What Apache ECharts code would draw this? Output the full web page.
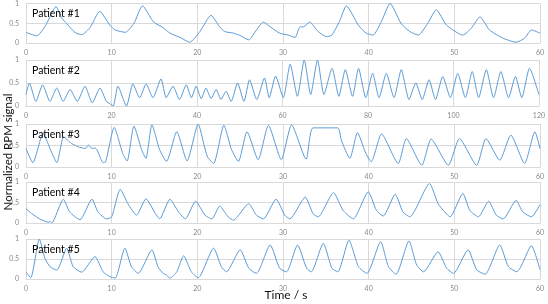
<!DOCTYPE html>
<html>
<head>
<meta charset="utf-8">
<script src="https://cdn.jsdelivr.net/npm/echarts@6/dist/echarts.min.js"></script>
<style>
html,body{margin:0;padding:0;background:#fff;}
#c{width:548px;height:304px;}
</style>
</head>
<body>
<div id="c"></div>
<script>
// ---- data: [time (s), normalized RPM signal] ----
const patientNames = ['Patient #1', 'Patient #2', 'Patient #3', 'Patient #4', 'Patient #5'];
const xMax = [60, 120, 60, 60, 60];
const xStep = [10, 20, 10, 10, 10];
const yTicks = [0, 0.5, 1];

const p1 = [[0,0.27],[1.25,0.18],[2.3,0.45],[3.5,0.92],[4.2,0.62],[4.75,0.49],[5.7,0.27],[6.5,0.21],[7.5,0.4],[8.6,0.8],[9.8,0.45],[10.4,0.33],[11.6,0.27],[12.6,0.5],[13.6,0.94],[14.9,0.53],[16,0.39],[16.8,0.25],[18,0.14],[19.1,0.02],[20.3,0.29],[21.6,0.7],[22.6,0.41],[23.2,0.29],[24.2,0.25],[25,0.19],[26,0.08],[26.9,0.33],[27.7,0.53],[28.5,0.41],[29.6,0.25],[30.6,0.2],[31.4,0.14],[32,0.41],[32.4,0.41],[33.1,0.53],[34.1,0.29],[35.1,0.16],[35.7,0.2],[36.6,0.55],[37.4,0.94],[38.8,0.45],[39.7,0.25],[40.5,0.2],[41.5,0.55],[42.5,1.0],[43.8,0.49],[44.8,0.29],[45.8,0.2],[46.9,0.5],[47.9,0.84],[49.1,0.45],[51,0.2],[52,0.38],[53,0.66],[54.1,0.33],[55.7,0.12],[57.2,0.02],[58.2,0.12],[59,0.33],[60,0.25]];

const p2 = [[0,0.25],[0.8,0.5],[2.3,0.1],[3.9,0.46],[5.6,0.1],[7.2,0.39],[8.7,0.1],[10.3,0.36],[12,0.1],[13.8,0.43],[15.5,0.07],[17.3,0.39],[18.8,0.1],[19.6,0.05],[20.4,0.0],[21.5,0.43],[23.5,0.0],[25,0.48],[26.6,0.18],[28.1,0.48],[29.7,0.18],[31.6,0.59],[32.8,0.18],[34.4,0.43],[35.9,0.14],[37.5,0.46],[38.7,0.18],[39.8,0.43],[41,0.16],[42.1,0.39],[43.3,0.16],[44.5,0.36],[45.6,0.14],[46.8,0.32],[48,0.1],[49.5,0.5],[51,0.1],[52.3,0.57],[54,0.14],[55.8,0.61],[56.9,0.18],[58.4,0.65],[60.2,0.18],[61.8,0.91],[63.5,0.21],[65.1,1.0],[66.6,0.25],[68.2,1.0],[69.7,0.25],[71.6,0.82],[73.2,0.21],[74.7,0.79],[76.4,0.21],[77.8,0.82],[79.5,0.18],[81.1,0.71],[82.6,0.18],[84.3,0.71],[86.1,0.18],[87.8,0.79],[89.6,0.14],[91.2,0.5],[92.7,0.14],[94.3,0.57],[95.8,0.14],[97.5,0.64],[99.3,0.18],[101,0.71],[102.8,0.18],[104.4,0.75],[105.9,0.18],[107.7,0.79],[109.4,0.18],[111.1,0.75],[112.9,0.18],[114.5,0.64],[116,0.18],[117.8,0.82],[120,0.25]];

const p3 = [[0,0.43],[0.8,0.1],[2,0.78],[2.8,0.43],[3.6,0.1],[4.4,0.7],[5.3,0.55],[6.1,0.47],[6.9,0.43],[7.3,0.51],[7.7,0.43],[8.1,0.44],[8.4,0.35],[9.0,0.1],[9.3,0.12],[10.3,0.92],[11.3,0.31],[11.8,0.14],[12.6,0.95],[13.5,0.4],[14.0,0.2],[14.7,0.98],[15.6,0.4],[16.4,0.13],[17.6,0.82],[18.8,0.14],[20.1,1.0],[20.8,0.5],[21.2,0.23],[21.9,0.08],[23.1,0.97],[24.0,0.4],[24.8,0.13],[25.8,0.82],[27.1,0.17],[28.3,0.97],[29.8,0.17],[31,0.98],[32.7,0.18],[33.5,0.91],[36.4,0.91],[36.8,0.63],[37.8,0.2],[38.7,0.8],[39.6,0.35],[40.3,0.12],[41.5,0.77],[43.45,0.08],[44.4,0.66],[46.2,0.04],[47.3,0.65],[49.3,0.04],[50.6,0.66],[52.6,0.04],[53.7,0.66],[55.3,0.16],[56.6,0.74],[58.2,0.08],[59.4,0.82],[60,0.43]];

const p4 = [[0,0.35],[0.66,0.23],[1.6,0.1],[2.6,0.02],[2.8,0.04],[3,0],[4.36,0.58],[5.1,0.27],[6.3,0.08],[7.7,0.58],[8.4,0.27],[9.4,0.1],[10,0.15],[11,0.82],[11.9,0.47],[12.9,0.19],[14,0.59],[15.1,0.23],[15.6,0.1],[16.8,0.58],[17.8,0.27],[18.6,0.1],[19.8,0.53],[20.9,0.19],[21.7,0.1],[22.6,0.41],[23.6,0.15],[24.2,0.07],[26,0.47],[26.9,0.19],[27.7,0.1],[29.2,0.58],[30.2,0.19],[30.8,0.1],[32.6,0.63],[33.5,0.23],[34.1,0.15],[35.9,0.74],[37,0.31],[38.2,0.1],[39.95,0.76],[40.9,0.31],[41.7,0.17],[43.1,0.7],[44,0.27],[44.8,0.15],[47.1,0.96],[48.1,0.47],[48.7,0.31],[49.5,0.15],[51,0.72],[51.8,0.31],[52.8,0.15],[54,0.53],[54.9,0.19],[55.7,0.1],[57.2,0.55],[58,0.27],[59,0.15],[60,0.45]];

const p5 = [[0,0.18],[0.55,0.03],[1.56,1.0],[2.2,0.52],[2.8,0.31],[3.6,0.22],[4.75,0.77],[5.5,0.31],[6.5,0.17],[8.05,0.56],[9,0.18],[9.8,0.06],[10.4,0.02],[11.55,0.77],[12.3,0.31],[13.1,0.14],[14.7,0.73],[15.4,0.31],[16,0.14],[16.4,0.1],[16.8,0.02],[17.6,0.18],[18.4,0.58],[19.3,0.18],[20.1,0.03],[21.9,0.77],[22.8,0.31],[23.4,0.18],[25,0.73],[26,0.27],[26.9,0.14],[28.5,0.85],[29.6,0.27],[30.4,0.18],[31.7,0.85],[32.75,0.27],[33.3,0.18],[34.7,0.89],[35.7,0.27],[36.4,0.18],[37.7,0.97],[38.8,0.31],[39.8,0.14],[41.4,0.93],[42.3,0.31],[43.2,0.12],[44.7,0.95],[45.6,0.35],[46.4,0.18],[48.1,0.68],[49.1,0.27],[49.9,0.14],[51.6,0.73],[52.6,0.23],[53.6,0.12],[55.3,0.85],[56.3,0.31],[57.3,0.18],[59,0.83],[60,0.23]];

const seriesData = [p1, p2, p3, p4, p5];

// ---- layout ----
const gridBoxes = [
  {top: 3, height: 40},
  {top: 60, height: 46},
  {top: 124, height: 43},
  {top: 182, height: 41},
  {top: 239, height: 40}
];
const FONT = 'Lato, "Liberation Sans", sans-serif';
const lineColor = '#5B9BD5';
const gridColor = '#d9d9d9';

const grid = [], xAxis = [], yAxis = [], series = [], title = [];
gridBoxes.forEach((g, i) => {
  grid.push({left: 26, right: 8, top: g.top, height: g.height});
  xAxis.push({
    type: 'value', gridIndex: i, min: 0, max: xMax[i], interval: xStep[i],
    axisLine: {show: true, lineStyle: {color: gridColor}},
    axisTick: {show: false},
    splitLine: {show: true, lineStyle: {color: gridColor, width: 1}},
    axisLabel: {fontSize: 7, color: '#8a8a8a', margin: 6, fontFamily: FONT}
  });
  yAxis.push({
    type: 'value', gridIndex: i, min: yTicks[0], max: yTicks[2], interval: yTicks[1] - yTicks[0],
    axisLine: {show: false}, axisTick: {show: false},
    splitLine: {show: true, lineStyle: {color: gridColor, width: 1}},
    axisLabel: {fontSize: 7, color: '#8a8a8a', margin: 7, fontFamily: FONT}
  });
  series.push({
    type: 'line', xAxisIndex: i, yAxisIndex: i, data: seriesData[i],
    showSymbol: false, smooth: 0.2, animation: false,
    lineStyle: {color: lineColor, width: 1}
  });
  title.push({
    text: patientNames[i], left: 32, top: g.top + 5, padding: 0,
    textStyle: {fontSize: 10.5, fontWeight: 'normal', color: '#000', fontFamily: FONT}
  });
});

const chart = echarts.init(document.getElementById('c'));
chart.setOption({
  animation: false,
  backgroundColor: '#fff',
  title, grid, xAxis, yAxis, series,
  graphic: [
    {type: 'text', x: 8, y: 152, rotation: Math.PI / 2,
     style: {text: 'Normalized RPM signal', fontSize: 11.5, fill: '#111', fontFamily: FONT, textAlign: 'center', textVerticalAlign: 'middle'}},
    {type: 'text', x: 286, y: 295,
     style: {text: 'Time / s', fontSize: 12, fill: '#111', fontFamily: FONT, textAlign: 'center', textVerticalAlign: 'middle'}}
  ]
});
</script>
</body>
</html>
